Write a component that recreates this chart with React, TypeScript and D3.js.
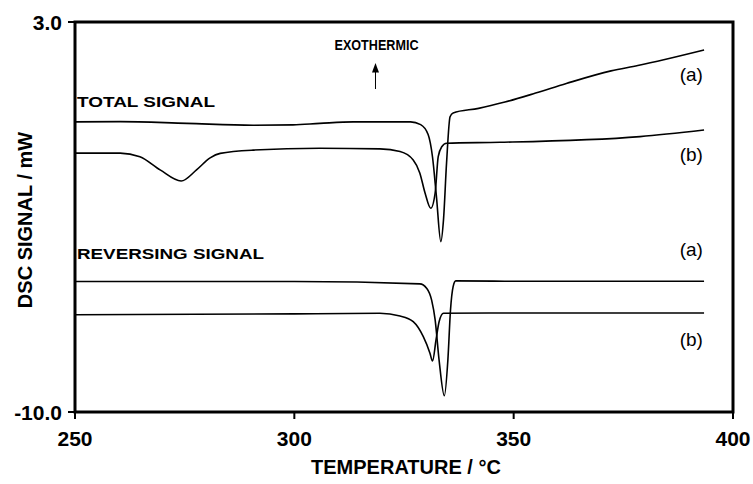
import React from "react";
import * as d3 from "d3";

// DSC thermograms: temperature (°C) vs heat flow (mW)
const totalA: [number, number][] = [
  [250, -0.33], [260.3, -0.32], [275.5, -0.38], [290.6, -0.44], [299.7, -0.43],
  [305.8, -0.38], [313.4, -0.33], [326.5, -0.33], [328.8, -0.42], [330.5, -0.75],
  [331.5, -1.5], [332.4, -2.83], [333.4, -4.32], [334.0, -3.6], [334.7, -1.7],
  [335.5, -0.16], [336.2, -0.03], [342.0, 0.12], [348.0, 0.33], [355.0, 0.63],
  [362.0, 0.95], [372.2, 1.37], [378.3, 1.55], [393.4, 2.07],
];

const totalB: [number, number][] = [
  [250, -1.37], [260.3, -1.37], [264.8, -1.49], [269.4, -1.93], [274.2, -2.3],
  [277.7, -1.93], [280.8, -1.53], [283.1, -1.38], [290.6, -1.27], [305.8, -1.21],
  [319.5, -1.23], [324.1, -1.32], [327.1, -1.6], [328.6, -2.03], [329.8, -2.7],
  [331.1, -3.21], [332.1, -2.7], [332.8, -1.49], [333.6, -1.16], [334.7, -1.04],
  [346.9, -1.01], [378.8, -0.82], [393.4, -0.6],
];

const reversingA: [number, number][] = [
  [250, -5.65], [300, -5.65], [328.6, -5.73], [330.2, -5.88], [331.3, -6.27],
  [332.1, -6.93], [333.0, -8.27], [334.2, -9.46], [335.0, -8.27], [335.6, -6.6],
  [336.2, -5.82], [336.8, -5.63], [350, -5.64], [393.4, -5.64],
];

const reversingB: [number, number][] = [
  [250, -6.76], [300, -6.73], [319.5, -6.71], [324.1, -6.8], [327.1, -6.99],
  [329.4, -7.49], [330.9, -8.03], [331.5, -8.3], [332.3, -7.6], [333.0, -6.99],
  [334.0, -6.71], [350, -6.7], [393.4, -6.7],
];

const xTicks = [250, 300, 350, 400];
const yTicks = [3.0, -10.0];
const xDomain: [number, number] = [250, 400];
const yDomain: [number, number] = [-10, 3];

const curveLabels = [
  { text: "(a)", value: 1.23 },
  { text: "(b)", value: -1.43 },
  { text: "(a)", value: -4.6 },
  { text: "(b)", value: -7.6 },
];

const W = 753;
const H = 484;
const m = { left: 75, right: 20, top: 22, bottom: 72 };
const FONT = "'Liberation Sans', Arial, Helvetica, sans-serif";

export default function App() {
  const x = d3.scaleLinear().domain(xDomain).range([m.left, W - m.right]);
  const y = d3.scaleLinear().domain(yDomain).range([H - m.bottom, m.top]);
  const line = d3
    .line<[number, number]>()
    .x((d) => x(d[0]))
    .y((d) => y(d[1]))
    .curve(d3.curveMonotoneX);

  const series = [totalA, totalB, reversingA, reversingB];
  const [x0, x1] = x.range();
  const [y0, y1] = y.range();
  const arrowX = x(318.5);

  return (
    <svg
      width={W}
      height={H}
      style={{ position: "absolute", left: 0, top: 0, background: "#fff" }}
      fontFamily={FONT}
    >
      {series.map((s, i) => (
        <path key={i} d={line(s) ?? ""} fill="none" stroke="#000" strokeWidth={1.6} />
      ))}

      {/* frame */}
      <rect
        x={x0}
        y={y1}
        width={x1 - x0}
        height={y0 - y1}
        fill="none"
        stroke="#000"
        strokeWidth={3}
      />

      {/* x axis ticks */}
      {xTicks.map((t) => (
        <g key={t}>
          <line x1={x(t)} x2={x(t)} y1={y0} y2={y0 + 7} stroke="#000" strokeWidth={2} />
          <text x={x(t)} y={y0 + 34} textAnchor="middle" fontSize={21} fontWeight="bold">
            {t}
          </text>
        </g>
      ))}

      {/* y axis ticks */}
      {yTicks.map((t) => (
        <g key={t}>
          <line x1={x0 - 7} x2={x0} y1={y(t)} y2={y(t)} stroke="#000" strokeWidth={2} />
          <text
            x={x0 - 13}
            y={y(t) + 7.5}
            textAnchor="end"
            fontSize={21}
            fontWeight="bold"
          >
            {t.toFixed(1)}
          </text>
        </g>
      ))}

      <text
        x={(x0 + x1) / 2 + 2}
        y={H - 10}
        textAnchor="middle"
        fontSize={20}
        fontWeight="bold"
      >
        TEMPERATURE / °C
      </text>
      <text
        transform={`translate(32,${(y0 + y1) / 2 + 3}) rotate(-90)`}
        textAnchor="middle"
        fontSize={20}
        fontWeight="bold"
      >
        DSC SIGNAL / mW
      </text>

      {/* annotations */}
      <text
        x={x0 + 2}
        y={y(-0.3) - 14}
        fontSize={15}
        fontWeight="bold"
        textLength={138}
        lengthAdjust="spacingAndGlyphs"
      >
        TOTAL SIGNAL
      </text>
      <text
        x={x0 + 2}
        y={y(-5.65) - 23}
        fontSize={15}
        fontWeight="bold"
        textLength={187}
        lengthAdjust="spacingAndGlyphs"
      >
        REVERSING SIGNAL
      </text>
      <text
        x={arrowX + 1}
        y={50}
        textAnchor="middle"
        fontSize={14}
        fontWeight="bold"
        textLength={84}
        lengthAdjust="spacingAndGlyphs"
      >
        EXOTHERMIC
      </text>
      <line x1={arrowX} x2={arrowX} y1={89} y2={71} stroke="#000" strokeWidth={1} />
      <path
        d={`M${arrowX},63 L${arrowX - 3.5},72.5 L${arrowX + 3.5},72.5 Z`}
        fill="#000"
      />

      {curveLabels.map((l, i) => (
        <text key={i} x={x(390.5)} y={y(l.value) + 6} textAnchor="middle" fontSize={19}>
          {l.text}
        </text>
      ))}
    </svg>
  );
}
